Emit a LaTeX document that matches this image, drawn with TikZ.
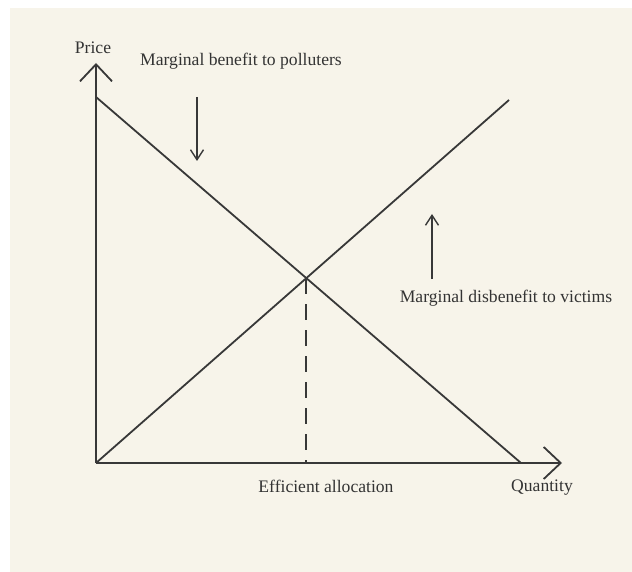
\documentclass[tikz,border=0pt]{standalone}
\usepackage{fontspec}
\setmainfont{Liberation Serif}
\usetikzlibrary{arrows.meta}
\definecolor{cream}{HTML}{F7F4EA}
\definecolor{ink}{HTML}{383838}
\definecolor{txt}{HTML}{333333}
\begin{document}
\begin{tikzpicture}[x=1pt,y=-1pt,
  curve/.style={draw=ink,line width=1.8pt},
  axis/.style={draw=ink,line width=1.8pt,-{Straight Barb[length=17pt,width=32pt,line width=1.8pt]}},
  hint/.style={draw=ink,line width=1.4pt,-{Straight Barb[length=10pt,width=13pt,line width=1.4pt]}},
  lbl/.style={text=txt,font=\fontsize{17.6}{20}\selectfont,inner sep=0pt}]
\useasboundingbox (0,0) rectangle (632,572);
\fill[white] (0,0) rectangle (632,572);
\fill[cream] (10,8) rectangle (632,572);
% coordinates
\coordinate (O) at (96,463);
\coordinate (ytip) at (96,63);
\coordinate (xtip) at (562,463);
\coordinate (dtop) at (96,97);
\coordinate (dend) at (521,463);
\coordinate (send) at (509,100);
\coordinate (E) at (intersection of dtop--dend and O--send);
\coordinate (Ebase) at (E |- O);
\coordinate (a1s) at (197,97);
\coordinate (a1e) at (197,161);
\coordinate (a2s) at (432,279);
\coordinate (a2e) at (432,214);
% axes
\draw[axis] (O) -- (ytip);
\draw[axis] (O) -- (xtip);
% curves
\draw[curve] (dtop) -- (dend);
\draw[curve] (O) -- (send);
\draw[draw=ink,line width=1.8pt,dash pattern=on 16pt off 10pt] (E) -- (Ebase);
% hint arrows
\draw[hint] (a1s) -- (a1e);
\draw[hint] (a2s) -- (a2e);
% labels
\node[lbl] (price) at (93,48) {Price};
\node[lbl] (mb) at (241,61) {Marginal benefit to polluters};
\node[lbl] (md) at (506,298) {Marginal disbenefit to victims};
\node[lbl] (ea) at (326,486) {Efficient allocation};
\node[lbl] (qty) at (542,488) {Quantity};
\end{tikzpicture}
\end{document}
